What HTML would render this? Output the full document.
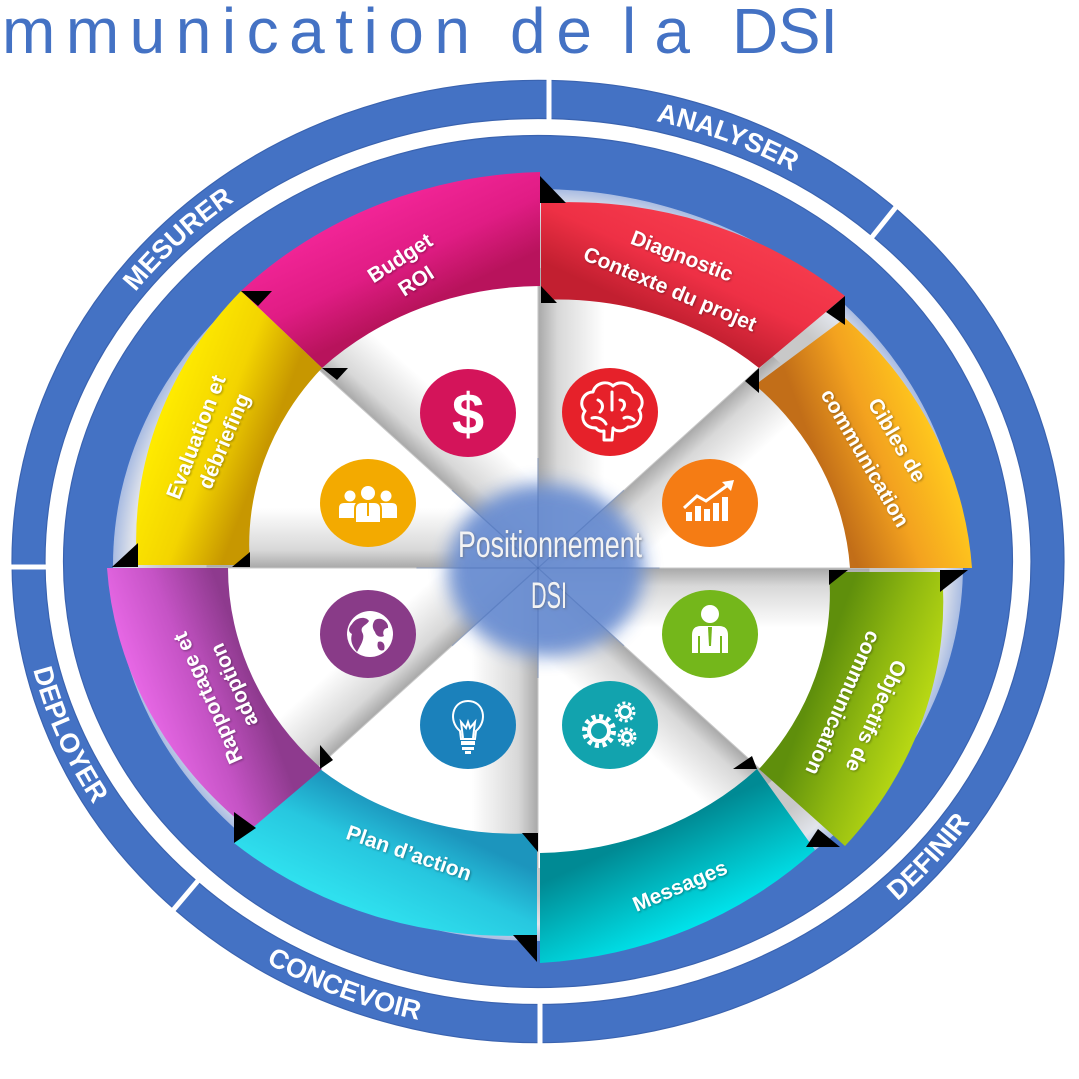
<!DOCTYPE html>
<html>
<head>
<meta charset="utf-8">
<style>
html,body{margin:0;padding:0;background:#fff;}
svg{display:block;font-family:"Liberation Sans",Arial,sans-serif;}
</style>
</head>
<body>
<svg width="1079" height="1079" viewBox="0 0 1079 1079" xmlns="http://www.w3.org/2000/svg">
<defs>
  <radialGradient id="grayDisc" cx="0.5" cy="0.5" r="0.5">
    <stop offset="0" stop-color="#c4c4c4"/>
    <stop offset="0.88" stop-color="#c8c8c8"/>
    <stop offset="0.955" stop-color="#e1e4eb"/>
    <stop offset="1" stop-color="#a9bce2"/>
  </radialGradient>
  <linearGradient id="wg" gradientUnits="userSpaceOnUse" x1="0" y1="0" x2="0" y2="60">
    <stop offset="0" stop-color="#a8a8a8"/>
    <stop offset="0.3" stop-color="#d8d8d8"/>
    <stop offset="1" stop-color="#ffffff"/>
  </linearGradient>
  <linearGradient id="gM" gradientUnits="userSpaceOnUse" x1="419" y1="307" x2="372" y2="206">
    <stop offset="0" stop-color="#b8135c"/><stop offset="0.45" stop-color="#e01c84"/><stop offset="1" stop-color="#f22597"/>
  </linearGradient>
  <linearGradient id="gR" gradientUnits="userSpaceOnUse" x1="654" y1="314" x2="698" y2="219">
    <stop offset="0" stop-color="#c21f30"/><stop offset="0.5" stop-color="#ee3045"/><stop offset="1" stop-color="#f53a4c"/>
  </linearGradient>
  <linearGradient id="gO" gradientUnits="userSpaceOnUse" x1="819" y1="463" x2="931" y2="421">
    <stop offset="0" stop-color="#c26e18"/><stop offset="0.5" stop-color="#f3a21f"/><stop offset="1" stop-color="#ffc81e"/>
  </linearGradient>
  <linearGradient id="gG" gradientUnits="userSpaceOnUse" x1="819" y1="673" x2="926" y2="713">
    <stop offset="0" stop-color="#5f8f0c"/><stop offset="0.5" stop-color="#8fb810"/><stop offset="1" stop-color="#b9d914"/>
  </linearGradient>
  <linearGradient id="gMs" gradientUnits="userSpaceOnUse" x1="658" y1="830" x2="701" y2="924">
    <stop offset="0" stop-color="#008a94"/><stop offset="0.5" stop-color="#00b8c0"/><stop offset="1" stop-color="#00e3eb"/>
  </linearGradient>
  <linearGradient id="gP" gradientUnits="userSpaceOnUse" x1="423" y1="819" x2="378" y2="917">
    <stop offset="0" stop-color="#1c95bd"/><stop offset="0.45" stop-color="#27c7df"/><stop offset="1" stop-color="#2fe0ee"/>
  </linearGradient>
  <linearGradient id="gPu" gradientUnits="userSpaceOnUse" x1="252" y1="675" x2="145" y2="715">
    <stop offset="0" stop-color="#8e3a8e"/><stop offset="0.5" stop-color="#c553c5"/><stop offset="1" stop-color="#e868e6"/>
  </linearGradient>
  <linearGradient id="gY" gradientUnits="userSpaceOnUse" x1="260" y1="464" x2="155" y2="424">
    <stop offset="0" stop-color="#c79700"/><stop offset="0.45" stop-color="#f3d400"/><stop offset="1" stop-color="#ffec00"/>
  </linearGradient>
  <filter id="blurC" x="-50%" y="-50%" width="200%" height="200%"><feGaussianBlur stdDeviation="9"/></filter>
  <filter id="ts" x="-20%" y="-50%" width="140%" height="200%"><feDropShadow dx="1" dy="1" stdDeviation="1" flood-color="#000" flood-opacity="0.35"/></filter>
  <filter id="ts2" x="-20%" y="-50%" width="140%" height="200%"><feDropShadow dx="1" dy="1" stdDeviation="1.2" flood-color="#555" flood-opacity="0.5"/></filter>
  <path id="topP" d="M37.5,561.5 A500.5,453 0 1 1 1038.5,561.5 A500.5,453 0 1 1 37.5,561.5"/>
  <path id="botP" d="M19.5,561.5 A518.5,471 0 1 0 1056.5,561.5 A518.5,471 0 1 0 19.5,561.5"/>
</defs>

<!-- Title -->
<g fill="#4472C4" font-size="64">
  <text x="-8" y="53" text-anchor="end">Co</text>
  <text x="2" y="53" textLength="468" lengthAdjust="spacing">mmunication</text>
  <text x="510" y="53" textLength="82" lengthAdjust="spacing">de</text>
  <text x="622" y="53" textLength="68" lengthAdjust="spacing">la</text>
  <text x="732" y="53" textLength="106" lengthAdjust="spacing">DSI</text>
</g>

<!-- Outer ring -->
<path fill="#4472C4" fill-rule="evenodd" stroke="#3a63b0" stroke-width="1.2"
  d="M12,561.5 A526,481 0 1 1 1064,561.5 A526,481 0 1 1 12,561.5 Z M45,561.5 A493,443 0 1 0 1031,561.5 A493,443 0 1 0 45,561.5 Z"/>
<!-- separators -->
<g stroke="#fff" stroke-width="5">
  <line x1="549" y1="72" x2="549" y2="124"/>
  <line x1="868" y1="242" x2="900" y2="202"/>
  <line x1="4" y1="567" x2="52" y2="567"/>
  <line x1="202" y1="876" x2="169" y2="915"/>
  <line x1="540" y1="996" x2="540" y2="1052"/>
</g>

<!-- Inner ring -->
<ellipse cx="538" cy="561.5" rx="474.5" ry="426" fill="#4472C4" stroke="#3a63b0" stroke-width="1.2"/>
<ellipse cx="538" cy="565" rx="425" ry="376" fill="url(#grayDisc)"/>

<!-- White wedges -->
<g transform="translate(538,568) scale(1.105,1)">
  <path d="M0,0 L300,0 A300,300 0 0 1 212.13,212.13 Z" fill="url(#wg)" transform="rotate(225)"/>
  <path d="M0,0 L300,0 A300,300 0 0 1 212.13,212.13 Z" fill="url(#wg)" transform="rotate(270)"/>
  <path d="M0,0 L300,0 A300,300 0 0 1 212.13,212.13 Z" fill="url(#wg)" transform="rotate(315)"/>
  <path d="M0,0 L300,0 A300,300 0 0 1 212.13,212.13 Z" fill="url(#wg)" transform="rotate(0)"/>
  <path d="M0,0 L300,0 A300,300 0 0 1 212.13,212.13 Z" fill="url(#wg)" transform="rotate(45)"/>
  <path d="M0,0 L300,0 A300,300 0 0 1 212.13,212.13 Z" fill="url(#wg)" transform="rotate(90)"/>
  <path d="M0,0 L300,0 A300,300 0 0 1 212.13,212.13 Z" fill="url(#wg)" transform="rotate(135)"/>
  <path d="M0,0 L300,0 A300,300 0 0 1 212.13,212.13 Z" fill="url(#wg)" transform="rotate(180)"/>
  <g stroke="#c9c9c9" stroke-width="1">
    <line x1="0" y1="0" x2="300" y2="0" transform="rotate(0)"/>
    <line x1="0" y1="0" x2="300" y2="0" transform="rotate(45)"/>
    <line x1="0" y1="0" x2="300" y2="0" transform="rotate(90)"/>
    <line x1="0" y1="0" x2="300" y2="0" transform="rotate(135)"/>
    <line x1="0" y1="0" x2="300" y2="0" transform="rotate(180)"/>
    <line x1="0" y1="0" x2="300" y2="0" transform="rotate(225)"/>
    <line x1="0" y1="0" x2="300" y2="0" transform="rotate(270)"/>
    <line x1="0" y1="0" x2="300" y2="0" transform="rotate(315)"/>
  </g>
</g>

<!-- Colored segments -->
<path fill="url(#gM)" d="M241,291 A432,391 0 0 1 540,172 L540,286 A312,282 0 0 0 322,368 Z"/>
<path fill="url(#gR)" d="M541,203 A418,378 0 0 1 845,296 L759,368 A304,275 0 0 0 541,300 Z"/>
<path fill="url(#gO)" d="M845,318 A425,385 0 0 1 972,568 L850,568 A305,276 0 0 0 755,385 Z"/>
<path fill="url(#gG)" d="M942,572 A420,380 0 0 1 845,846 L759,769 A303,274 0 0 0 829,572 Z"/>
<path fill="url(#gMs)" d="M815,850 A427,386 0 0 1 540,963 L540,853 A314,284 0 0 0 757,769 Z"/>
<path fill="url(#gP)" d="M537,935 A418,378 0 0 1 234,843 L320,769 A302,273 0 0 0 537,833 Z"/>
<path fill="url(#gPu)" d="M250,830 A420,380 0 0 1 107,568 L228,568 A309,280 0 0 0 322,769 Z"/>
<path fill="url(#gY)" d="M137,565 A414,375 0 0 1 241,291 L322,368 A300,271 0 0 0 250,565 Z"/>

<!-- fold triangles -->
<g fill="#000">
  <polygon points="540,176 540,203 566,203"/>
  <polygon points="541,286 541,303 557,303"/>
  <polygon points="845,296 845,325 826,312"/>
  <polygon points="759,368 759,393 745,381"/>
  <polygon points="940,570 968,570 940,592"/>
  <polygon points="829,570 848,570 829,585"/>
  <polygon points="806,847 840,847 818,829"/>
  <polygon points="733,769 757,769 752,756"/>
  <polygon points="513,935 537,935 537,962"/>
  <polygon points="522,833 538,833 538,852"/>
  <polygon points="234,812 234,843 256,828"/>
  <polygon points="320,745 320,769 333,760"/>
  <polygon points="138,543 138,567 112,567"/>
  <polygon points="250,552 250,567 232,567"/>
  <polygon points="241,291 272,291 258,306"/>
  <polygon points="322,368 348,368 337,380"/>
</g>

<!-- Center blob -->
<ellipse cx="546" cy="570" rx="98" ry="86" fill="#6a8ed2" opacity="0.95" filter="url(#blurC)"/>
<g transform="translate(538,568) scale(1.105,1)" stroke="#3f63a8" stroke-opacity="0.35" stroke-width="1.2">
  <line x1="0" y1="0" x2="110" y2="0" transform="rotate(0)"/>
  <line x1="0" y1="0" x2="110" y2="0" transform="rotate(45)"/>
  <line x1="0" y1="0" x2="110" y2="0" transform="rotate(90)"/>
  <line x1="0" y1="0" x2="110" y2="0" transform="rotate(135)"/>
  <line x1="0" y1="0" x2="110" y2="0" transform="rotate(180)"/>
  <line x1="0" y1="0" x2="110" y2="0" transform="rotate(225)"/>
  <line x1="0" y1="0" x2="110" y2="0" transform="rotate(270)"/>
  <line x1="0" y1="0" x2="110" y2="0" transform="rotate(315)"/>
</g>
<g fill="#f3f3f3" font-size="37" text-anchor="middle" filter="url(#ts2)">
  <text x="550" y="557" textLength="184" lengthAdjust="spacingAndGlyphs">Positionnement</text>
  <text x="549" y="608" textLength="36" lengthAdjust="spacingAndGlyphs">DSI</text>
</g>

<!-- Icons -->
<!-- $ -->
<ellipse cx="468" cy="413" rx="48" ry="44" fill="#D4145A"/>
<text x="468" y="434" font-size="58" font-weight="bold" fill="#fff" text-anchor="middle">$</text>
<!-- brain -->
<ellipse cx="610" cy="412" rx="48" ry="44" fill="#E6212A"/>
<g fill="none" stroke="#fff" stroke-width="3" stroke-linejoin="round" stroke-linecap="round">
  <path d="M596,428 C584,428 580,418 585,411 C578,404 583,392 593,392 C595,383 607,380 613,386 C619,380 632,383 633,392 C642,393 645,404 639,410 C644,418 638,428 628,427 C624,432 616,432 613,428 L612,440 L604,440 L604,431 C600,432 597,430 596,428 Z"/>
  <path d="M598,400 C603,402 604,408 600,412 M612,392 L612,410 M620,400 C625,400 626,406 622,410 M592,418 C598,416 604,420 606,424 M624,418 C628,416 632,418 634,420"/>
</g>
<!-- chart -->
<ellipse cx="710" cy="503" rx="48" ry="44" fill="#F57C14"/>
<g fill="#fff">
  <rect x="686" y="512" width="6" height="9"/>
  <rect x="695" y="506" width="6" height="15"/>
  <rect x="704" y="509" width="6" height="12"/>
  <rect x="713" y="503" width="6" height="18"/>
  <rect x="722" y="497" width="6" height="24"/>
  <polygon points="734,480 722,482 731,491"/>
</g>
<polyline points="684,508 697,496 706,501 728,485" stroke="#fff" stroke-width="3" fill="none"/>
<!-- person -->
<ellipse cx="710" cy="634" rx="48" ry="44" fill="#74B71B"/>
<g fill="#fff">
  <circle cx="710" cy="614" r="9"/>
  <path d="M692,653 L692,635 Q692,626 701,626 L719,626 Q728,626 728,635 L728,653 Z"/>
</g>
<polygon points="708,627 712,627 711,646 709,646" fill="#74B71B"/>
<line x1="699" y1="636" x2="699" y2="653" stroke="#74B71B" stroke-width="2"/>
<line x1="721" y1="636" x2="721" y2="653" stroke="#74B71B" stroke-width="2"/>
<!-- gears -->
<ellipse cx="610" cy="725" rx="48" ry="44" fill="#12A3AE"/>
<g stroke="#fff" fill="none">
  <circle cx="599" cy="731" r="10" stroke-width="4"/>
  <circle cx="599" cy="731" r="14.5" stroke-width="5" stroke-dasharray="4 3.6"/>
  <circle cx="625" cy="712" r="5.5" stroke-width="3"/>
  <circle cx="625" cy="712" r="9" stroke-width="3" stroke-dasharray="3 2.65"/>
  <circle cx="627" cy="737" r="4.5" stroke-width="3"/>
  <circle cx="627" cy="737" r="8" stroke-width="3" stroke-dasharray="3 2.03"/>
</g>
<!-- bulb -->
<ellipse cx="468" cy="725" rx="48" ry="44" fill="#1B81BB"/>
<g stroke="#fff" fill="none" stroke-width="2">
  <path d="M460,731 C448,721 452,701 468,701 C484,701 488,721 476,731 L475,739 L461,739 Z"/>
  <path d="M463,738 L461,722 L466,728 L468,722 L470,728 L475,722 L473,738"/>
</g>
<g fill="#fff">
  <rect x="461" y="741" width="14" height="4"/>
  <rect x="462" y="747" width="12" height="3"/>
  <rect x="465" y="751" width="6" height="3"/>
</g>
<!-- globe -->
<ellipse cx="368" cy="634" rx="48" ry="44" fill="#893B88"/>
<circle cx="370" cy="634" r="23" fill="#fff"/>
<g fill="#893B88">
  <path d="M352,624 C356,617 366,616 369,621 C366,626 360,626 362,632 C366,638 360,646 357,652 C352,646 350,640 352,634 C348,632 348,628 352,624 Z"/>
  <path d="M375,620 C381,616 389,622 388,628 C384,628 382,632 384,636 C380,638 376,636 375,632 C372,628 372,624 375,620 Z"/>
  <path d="M378,642 C382,640 386,644 384,650 C380,652 376,648 378,642 Z"/>
</g>
<!-- people -->
<ellipse cx="368" cy="503" rx="48" ry="44" fill="#F3AA00"/>
<g fill="#fff">
  <circle cx="350" cy="496" r="5.5"/>
  <path d="M339,518 L339,508 Q339,503 344,503 L356,503 Q360,503 360,508 L360,518 Z"/>
  <circle cx="386" cy="496" r="5.5"/>
  <path d="M376,518 L376,508 Q376,503 380,503 L392,503 Q397,503 397,508 L397,518 Z"/>
  <circle cx="368" cy="493" r="7"/>
  <path d="M355,523 L355,509 Q355,502 362,502 L374,502 Q381,502 381,509 L381,523 Z" stroke="#F3AA00" stroke-width="2"/>
</g>
<polygon points="367,503 369,503 369,516 367,516" fill="#F3AA00"/>

<!-- Segment labels -->
<g font-weight="bold" font-size="21" fill="#fff" text-anchor="middle" filter="url(#ts)">
  <text transform="translate(400,258) rotate(-33)" dy="7">Budget</text>
  <text transform="translate(416,281) rotate(-33)" dy="7">ROI</text>
  <text transform="translate(682,256) rotate(21)" dy="7">Diagnostic</text>
  <text transform="translate(670,289) rotate(23)" dy="7">Contexte du projet</text>
  <text transform="translate(897,440) rotate(59.5)" dy="7">Cibles de</text>
  <text transform="translate(865,458) rotate(60)" dy="7">communication</text>
  <text transform="translate(876,716) rotate(114)" dy="7">Objectifs de</text>
  <text transform="translate(843,703) rotate(114)" dy="7">communication</text>
  <text transform="translate(680,886) rotate(-23)" dy="7">Messages</text>
  <text transform="translate(409,853) rotate(19)" dy="7">Plan d’action</text>
  <text transform="translate(208,698) rotate(-114)" dy="7">Rapportage et</text>
  <text transform="translate(234,685) rotate(-114)" dy="7">adoption</text>
  <text transform="translate(196,437) rotate(-69)" dy="7">Evaluation et</text>
  <text transform="translate(224,441) rotate(-67)" dy="7">débriefing</text>
</g>

<!-- Ring labels -->
<g font-weight="bold" font-size="27" fill="#fff" text-anchor="middle">
  <text><textPath href="#topP" startOffset="12%">MESURER</textPath></text>
  <text><textPath href="#topP" startOffset="31.4%">ANALYSER</textPath></text>
  <text><textPath href="#botP" startOffset="5.9%">DEPLOYER</textPath></text>
  <text><textPath href="#botP" startOffset="18.5%">CONCEVOIR</textPath></text>
  <text><textPath href="#botP" startOffset="39.3%">DEFINIR</textPath></text>
</g>
</svg>
</body>
</html>
